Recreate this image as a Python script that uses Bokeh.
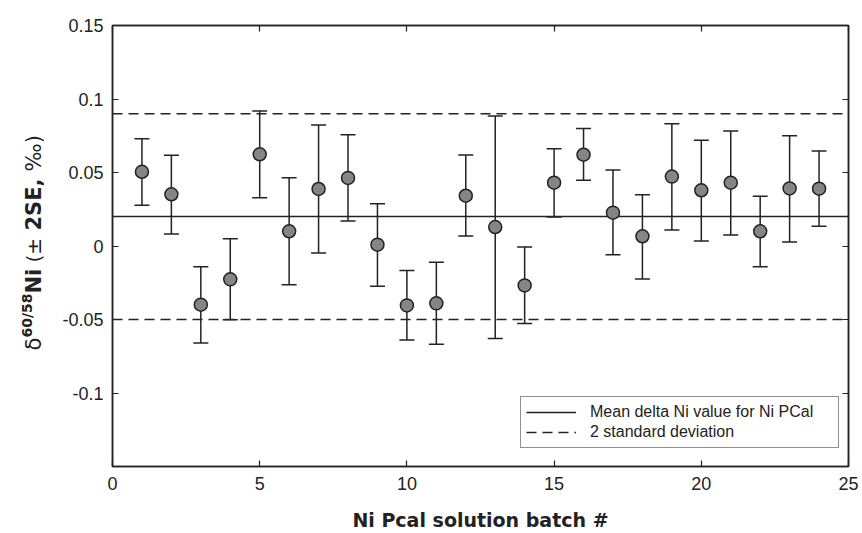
import math
from bokeh.plotting import figure
from bokeh.layouts import row
from bokeh.models import (LinearAxis, FixedTicker, CustomJSTickFormatter, Whisker,
                          ColumnDataSource, Legend, LegendItem, TeeHead)
from bokeh.core.properties import value
from bokeh.embed import file_html
from bokeh.resources import INLINE

# ---------------- data ----------------
batch = list(range(1, 25))
delta = [0.0505, 0.0352, -0.0399, -0.0227, 0.0624, 0.0100, 0.0388, 0.0463,
         0.0009, -0.0404, -0.0390, 0.0342, 0.0129, -0.0268, 0.0431, 0.0621,
         0.0227, 0.0066, 0.0472, 0.0379, 0.0431, 0.0100, 0.0392, 0.0390]
upper = [0.0730, 0.0617, -0.0141, 0.0050, 0.0918, 0.0465, 0.0823, 0.0757,
         0.0288, -0.0166, -0.0111, 0.0619, 0.0884, -0.0007, 0.0662, 0.0800,
         0.0517, 0.0349, 0.0832, 0.0719, 0.0782, 0.0338, 0.0750, 0.0646]
lower = [0.0277, 0.0082, -0.0660, -0.0501, 0.0329, -0.0263, -0.0048, 0.0170,
         -0.0274, -0.0640, -0.0669, 0.0068, -0.0630, -0.0528, 0.0197, 0.0447,
         -0.0059, -0.0224, 0.0109, 0.0034, 0.0075, -0.0141, 0.0027, 0.0134]
mean_value = 0.02
sd_upper = 0.09
sd_lower = -0.05
x_ticks = [0, 5, 10, 15, 20, 25]
y_ticks = [-0.1, -0.05, 0, 0.05, 0.1, 0.15]
x_lim = (0, 25)
y_lim = (-0.15, 0.15)
legend_labels = ["Mean delta Ni value for Ni PCal", "2 standard deviation"]
x_title = "Ni Pcal solution batch #"
y_title_parts = ["\u03b4", "60/58", "Ni", "(\u00b1", "2SE,", "\u2030)"]

INK = "#222222"
TICK_FONT = "Liberation Sans"
TITLE_FONT = "DejaVu Sans"

# geometry in pixels
W, H = 862, 533
YW = 44                      # width of the strip holding the y title
FL, FR, FT, FB = 112, 848, 25, 466

p = figure(width=W - YW, height=H, x_range=x_lim, y_range=y_lim,
           output_backend="svg", toolbar_location=None,
           min_border_left=FL - YW, min_border_right=W - FR,
           min_border_top=FT, min_border_bottom=H - FB,
           x_axis_location=None, y_axis_location=None)
p.grid.visible = False
p.outline_line_color = INK
p.outline_line_width = 1.5
p.background_fill_color = "white"
p.border_fill_color = "white"

fmt = CustomJSTickFormatter(code="return String(Number(tick.toFixed(4)));")

def make_axis(kind, show_labels):
    ax = LinearAxis()
    ax.ticker = FixedTicker(ticks=x_ticks if kind == "x" else y_ticks)
    ax.formatter = fmt if show_labels else CustomJSTickFormatter(code="return '';")
    ax.axis_line_color = INK
    ax.axis_line_width = 1.5
    ax.major_tick_line_color = INK
    ax.major_tick_line_width = 1.2
    ax.major_tick_in = 6
    ax.major_tick_out = 0
    ax.minor_tick_line_color = None
    ax.major_label_text_font = TICK_FONT
    ax.major_label_text_color = INK
    ax.major_label_text_font_size = "18px" if show_labels else "0px"
    ax.major_label_standoff = 9 if kind == "y" else 10
    return ax

xb = make_axis("x", True)
xb.axis_label = x_title
xb.axis_label_text_font = TITLE_FONT
xb.axis_label_text_font_style = "bold"
xb.axis_label_text_font_size = "19px"
xb.axis_label_text_color = INK
xb.axis_label_standoff = 16
p.add_layout(xb, "below")
p.add_layout(make_axis("x", False), "above")
p.add_layout(make_axis("y", True), "left")
p.add_layout(make_axis("y", False), "right")

# reference lines (drawn across the x range)
mean_r = p.line(x=list(x_lim), y=[mean_value, mean_value], line_color=INK, line_width=1.5)
sd_r = p.line(x=list(x_lim), y=[sd_upper, sd_upper], line_color=INK, line_width=1.5,
              line_dash="10 6")
p.line(x=list(x_lim), y=[sd_lower, sd_lower], line_color=INK, line_width=1.5,
       line_dash="10 6")

src = ColumnDataSource(dict(x=batch, y=delta, upper=upper, lower=lower))
wh = Whisker(source=src, base="x", upper="upper", lower="lower",
             line_color=INK, line_width=1.5, level="underlay",
             upper_head=TeeHead(size=15, line_color=INK, line_width=1.5),
             lower_head=TeeHead(size=15, line_color=INK, line_width=1.5))
p.add_layout(wh)
p.scatter("x", "y", source=src, size=13, fill_color="#858585",
          line_color=INK, line_width=1.5)

legend = Legend(items=[LegendItem(label=legend_labels[0], renderers=[mean_r]),
                       LegendItem(label=legend_labels[1], renderers=[sd_r])],
                location=(520 - FL, FB - 448),
                border_line_color=INK, border_line_width=1.5,
                background_fill_color="white", background_fill_alpha=1.0,
                padding=5, spacing=0, margin=0,
                glyph_width=50, glyph_height=20, label_height=20,
                label_width=243, label_standoff=14,
                label_text_font=TICK_FONT, label_text_font_size="16px",
                label_text_color=INK)
p.add_layout(legend)

# ---- y title strip: its frame is aligned with the main frame (pixel units) ----
ys = figure(width=YW, height=H, x_range=(0, YW), y_range=(FB, FT),
            output_backend="svg", toolbar_location=None,
            min_border=0, min_border_top=FT, min_border_bottom=H - FB,
            x_axis_location=None, y_axis_location=None)
ys.grid.visible = False
ys.outline_line_color = None
ys.background_fill_color = "white"
ys.border_fill_color = "white"

styles = ["normal", "bold", "bold", "normal", "bold", "normal"]
sizes = ["21px", "14px", "21px", "20px", "21px", "21px"]
x_off = [33, 26, 33, 33, 33, 33]
ypos = [350, 337, 293, 262, 230, 171]
ysrc = ColumnDataSource(dict(x=x_off, y=ypos, text=y_title_parts,
                             style=styles, size=sizes))
ys.text(x="x", y="y", text="text", source=ysrc, angle=math.pi / 2,
        text_font=value(TITLE_FONT), text_font_style="style",
        text_font_size="size", text_color=INK,
        text_align="left", text_baseline="alphabetic")

layout = row(ys, p, spacing=0)
open("out.html", "w").write(file_html(layout, INLINE))
